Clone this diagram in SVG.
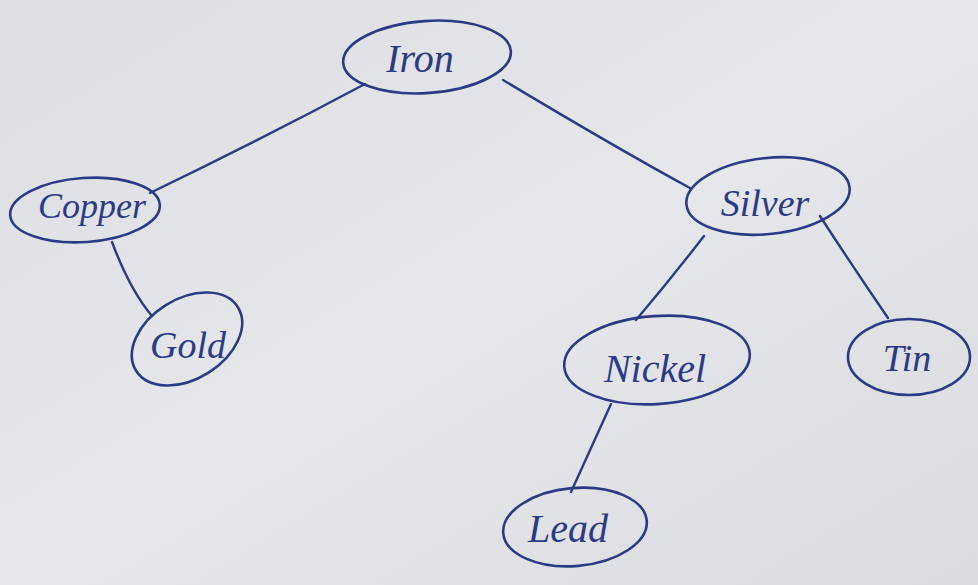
<svg xmlns="http://www.w3.org/2000/svg" width="978" height="585" viewBox="0 0 978 585">
<defs>
<linearGradient id="bg" x1="0" y1="0" x2="1" y2="1">
<stop offset="0" stop-color="#dcdee2"/>
<stop offset="0.5" stop-color="#e6e7ea"/>
<stop offset="1" stop-color="#d9dbdf"/>
</linearGradient>
</defs>
<style>
.node ellipse{fill:none;stroke:#2c3a86;stroke-width:2.6}
.node text{font-family:"Liberation Serif",serif;font-style:italic;fill:#2c3a86;text-anchor:middle;dominant-baseline:central}
.edge{stroke:#2c3a86;stroke-width:2.4;fill:none;stroke-linecap:round}
</style>
<rect width="978" height="585" fill="url(#bg)"/>
<g id="connectors">
<path class="edge" d="M365 84 Q260 140 150 193"/>
<path class="edge" d="M503 80 Q620 150 690 188"/>
<path class="edge" d="M112 242 Q130 290 152 316"/>
<path class="edge" d="M704 236 Q670 280 636 320"/>
<path class="edge" d="M820 216 Q855 270 888 318"/>
<path class="edge" d="M611 404 Q590 450 571 492"/>
</g>
<g id="node-iron" class="node">
<ellipse cx="427" cy="57" rx="84" ry="36" transform="rotate(-4 427 57)"/>
<text x="420" y="58" font-size="40">Iron</text>
</g>
<g id="node-copper" class="node">
<ellipse cx="85" cy="210" rx="75" ry="32" transform="rotate(-4 85 210)"/>
<text x="92" y="206" font-size="36">Copper</text>
</g>
<g id="node-gold" class="node">
<ellipse cx="187" cy="339" rx="60" ry="40" transform="rotate(-32 187 339)"/>
<text x="188" y="345" font-size="38">Gold</text>
</g>
<g id="node-silver" class="node">
<ellipse cx="768" cy="196" rx="82" ry="38" transform="rotate(-6 768 196)"/>
<text x="765" y="203" font-size="38">Silver</text>
</g>
<g id="node-nickel" class="node">
<ellipse cx="657" cy="360" rx="93" ry="44" transform="rotate(-4 657 360)"/>
<text x="655" y="368" font-size="40">Nickel</text>
</g>
<g id="node-tin" class="node">
<ellipse cx="909" cy="357" rx="61" ry="38"/>
<text x="907" y="358" font-size="38">Tin</text>
</g>
<g id="node-lead" class="node">
<ellipse cx="575" cy="527" rx="72" ry="39" transform="rotate(-5 575 527)"/>
<text x="568" y="528" font-size="40">Lead</text>
</g>
</svg>
